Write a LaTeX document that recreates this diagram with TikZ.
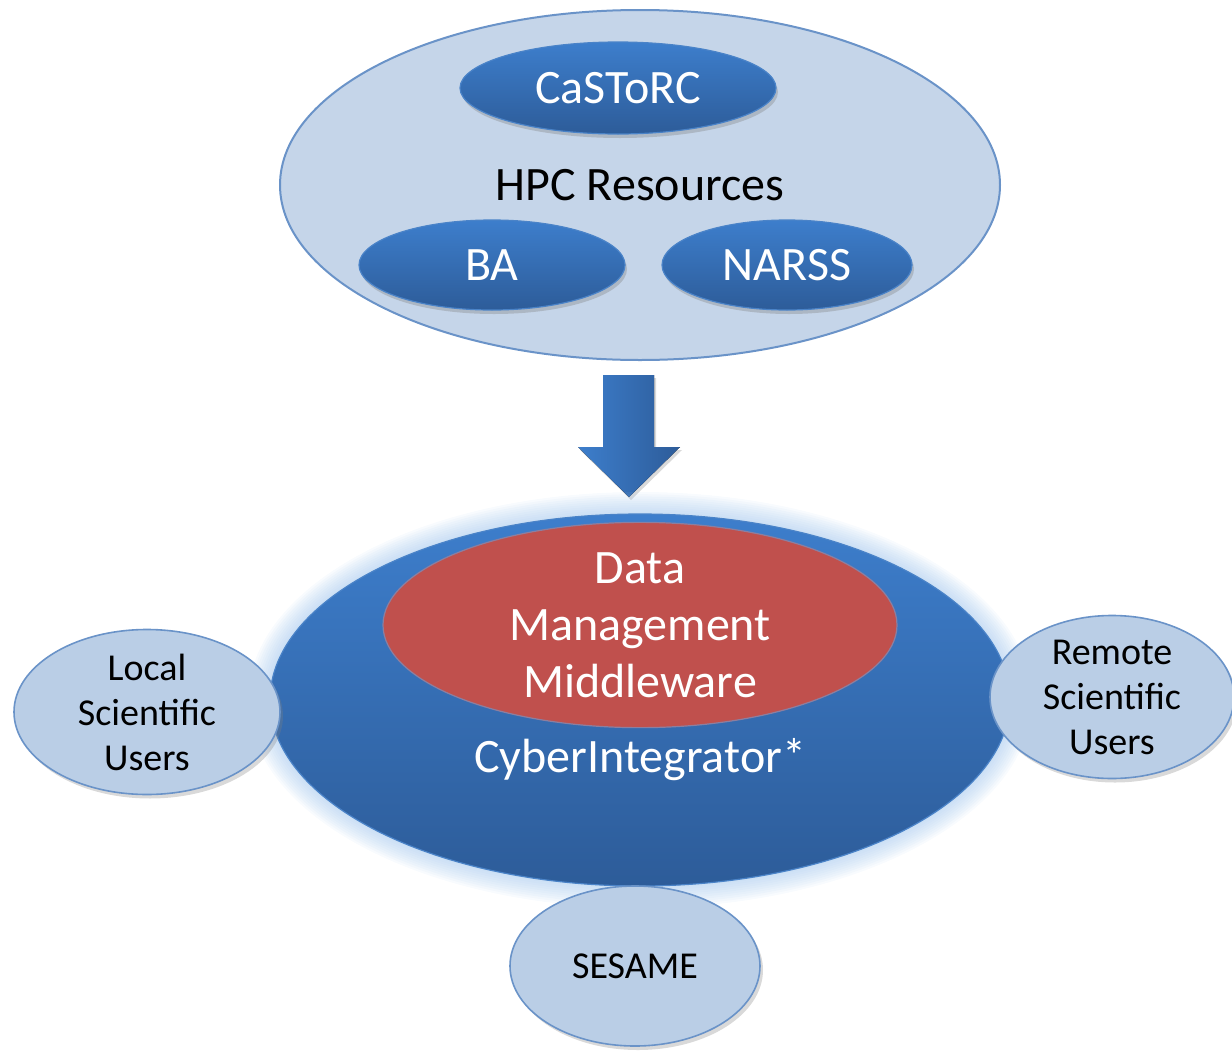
\documentclass[tikz,border=0pt]{standalone}
\usepackage{fontspec}
\setmainfont{Carlito}
\usetikzlibrary{shapes,shadows}

\definecolor{paleblue}{HTML}{BACEE6}
\definecolor{hpcblue}{HTML}{C5D5E9}
\definecolor{edgeblue}{HTML}{6A93C8}
\definecolor{deeptop}{HTML}{3D7ECC}
\definecolor{deepbot}{HTML}{2D5C99}
\definecolor{rimblue}{HTML}{4A83C8}
\definecolor{glowblue}{HTML}{9DC3EC}
\definecolor{mwred}{HTML}{C0504D}
\definecolor{mwrim}{HTML}{8C7FA0}

\begin{document}
\begin{tikzpicture}[x=0.5pt,y=-0.5pt]
        \tikzstyle{pale}=[ellipse, draw=edgeblue, line width=0.8pt, fill=paleblue, text=black, align=center, inner sep=0pt, font=\fontsize{19}{22.5}\selectfont, drop shadow={opacity=0.3, shadow xshift=1.5pt, shadow yshift=-2pt}]
        \tikzstyle{deep}=[ellipse, draw=rimblue, line width=0.6pt, top color=deeptop, bottom color=deepbot, text=white, inner sep=0pt, font=\fontsize{24}{28}\selectfont, drop shadow={opacity=0.35, shadow xshift=1pt, shadow yshift=-2pt}]
        \useasboundingbox (0,0) rectangle (1232,1050);
        % HPC side
        \node[ellipse, draw=edgeblue, line width=1pt, fill=hpcblue, inner sep=0pt, minimum width=360pt, minimum height=175pt] (hpc) at (640,185) {};
        \node[deep, minimum width=158pt, minimum height=46pt] (castorc) at (618,88) {CaSToRC};
        \node[font=\fontsize{24}{28}\selectfont] (hpclabel) at (640,185) {HPC Resources};
        \node[deep, minimum width=133pt, minimum height=45pt] (ba) at (492,265) {BA};
        \node[deep, minimum width=125pt, minimum height=45pt] (narss) at (787,265) {NARSS};
        % block arrow
        \fill[left color=deeptop, right color=deepbot, drop shadow={opacity=0.3, shadow xshift=1pt, shadow yshift=-1.5pt}]
          (603,375) -- (654,375) -- (654,447) -- (680,447) -- (629,497) -- (578,447) -- (603,447) -- cycle;
        % glow and middleware
        \coordinate (mid) at (640,700);
        \foreach \g in {1,...,10}
          \fill[glowblue, opacity=0.07] (mid) ellipse ({185pt+\g*1.1pt} and {93pt+\g*1.1pt});
        \node[ellipse, draw=rimblue, line width=0.6pt, top color=deeptop, bottom color=deepbot, inner sep=0pt, minimum width=370pt, minimum height=186pt] (cyber) at (mid) {};
        \node[ellipse, draw=mwrim, line width=0.6pt, fill=mwred, text=white, align=center, inner sep=0pt, minimum width=257pt, minimum height=95pt, font=\fontsize{24}{28.5}\selectfont] (dmm) at (640,625) {Data\\Management\\Middleware};
        \node[text=white, font=\fontsize{24}{28}\selectfont] (cyberlabel) at (640,760) {CyberIntegrator*};
        % users
        \node[pale, minimum width=133pt, minimum height=81.5pt] (local) at (147,712) {Local\\Scientific\\Users};
        \node[pale, minimum width=122pt, minimum height=81.5pt] (remote) at (1112,697) {Remote\\Scientific\\Users};
        \node[pale, minimum width=125pt, minimum height=80pt] (sesame) at (635,966) {SESAME};
\end{tikzpicture}
\end{document}
